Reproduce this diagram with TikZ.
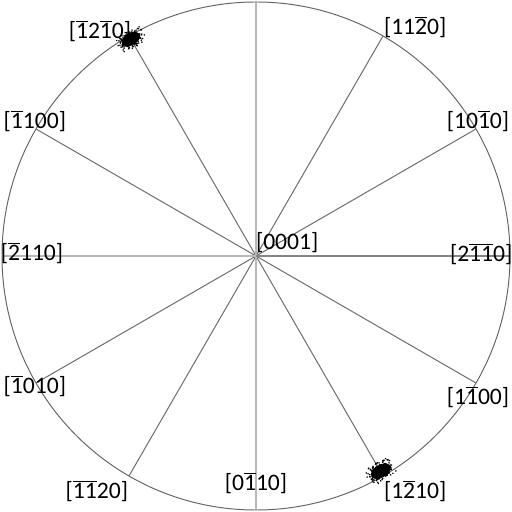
\documentclass[tikz,border=0pt]{standalone}
\usepackage{fontspec}
\setmainfont{Carlito}
\newcommand{\ov}[1]{$\overline{\mbox{#1}}$}

\begin{document}
\begin{tikzpicture}[
    eje/.style={black!28, line width=1.3pt},
    radio/.style={black!58, line width=0.7pt},
    etiqueta/.style={font=\fontsize{16.8}{20}\selectfont, inner sep=0pt}
  ]
  \useasboundingbox (-6.4,-6.4) rectangle (6.4,6.4);

  % Centro y puntos del borde
  \coordinate (O) at (0,0);
  \foreach \a in {0,30,...,330}
    \coordinate (p\a) at (\a:6.35);

  % Rectas
  \foreach \a in {30,60,120,150,210,240,300,330}
    \draw[radio] (O) -- (p\a);
  \draw[eje] (O) -- (p90);
  \draw[eje] (O) -- (p270);
  \draw[eje] (O) -- (p180);
  \draw[black!48, line width=1.2pt] (O) -- (p0);

  % Circunferencia
  \draw[black!60, line width=0.7pt] (O) circle (6.35);

  % Etiquetas
  \node[etiqueta] (n0001) at (0.78,0.33) {[0001]};
  \node[etiqueta] (n120) at (-3.9,5.63) {[\ov{1}2\ov{1}0]};
  \node[etiqueta] (n60) at (3.98,5.73) {[11\ov{2}0]};
  \node[etiqueta] (n30) at (5.55,3.38) {[10\ov{1}0]};
  \node[etiqueta] (n0) at (5.63,0.05) {[2\ov{1}\ov{1}0]};
  \node[etiqueta] (n330) at (5.55,-3.53) {[1\ov{1}00]};
  \node[etiqueta] (n300) at (3.98,-5.88) {[1\ov{2}10]};
  \node[etiqueta] (n270) at (0,-5.68) {[0\ov{1}10]};
  \node[etiqueta] (n240) at (-3.98,-5.88) {[\ov{1}\ov{1}20]};
  \node[etiqueta] (n210) at (-5.53,-3.25) {[\ov{1}010]};
  \node[etiqueta] (n180) at (-5.6,0.08) {[\ov{2}110]};
  \node[etiqueta] (n150) at (-5.53,3.38) {[\ov{1}100]};

  % Nubes de puntos
  \pgfmathsetseed{11}
  \coordinate (nubeA) at (-3.13,5.42);
  \coordinate (nubeB) at (3.12,-5.38);
  \fill[black, shift={(nubeA)}, rotate=30] (0,0) ellipse (0.25 and 0.15);
  \fill[black, shift={(nubeB)}, rotate=30] (0,0) ellipse (0.27 and 0.16);
  \foreach \c in {nubeA,nubeB}
    \foreach \i in {1,...,220}{
      \pgfmathsetmacro{\u}{0.38*(rand+rand)/2}
      \pgfmathsetmacro{\v}{0.25*(rand+rand)/2}
      \fill[black, shift={(\c)}, rotate=30] (\u,\v) circle (0.022);
    }
\end{tikzpicture}
\end{document}
